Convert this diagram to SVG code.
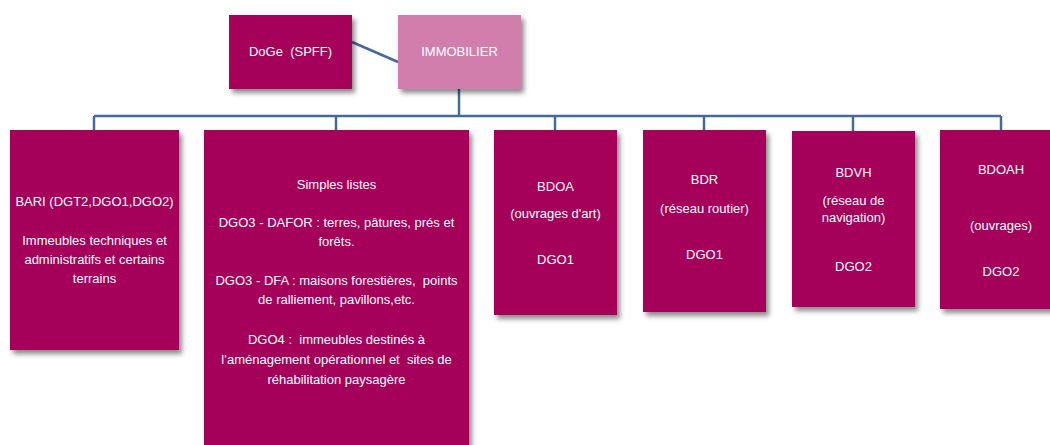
<svg xmlns="http://www.w3.org/2000/svg" width="1050" height="445" viewBox="0 0 1050 445">
<style>
.box{fill:#A5005A;filter:url(#sh)}
.pink{fill:#D17EAD;filter:url(#sh)}
.t{font-family:"Liberation Sans",Arial,sans-serif;font-size:13px;fill:#FFFFFF;text-anchor:middle;white-space:pre}
.c{stroke:#44699A;stroke-width:2.5;fill:none}
</style>
<defs>
<filter id="sh" x="-10%" y="-10%" width="130%" height="130%">
<feDropShadow dx="3" dy="4" stdDeviation="2.5" flood-color="#000" flood-opacity="0.45"/>
</filter>
</defs>
<rect width="1050" height="445" fill="#FFFFFF"/>
<g id="connectors">
<line class="c" x1="352" y1="42" x2="398" y2="62"/>
<line class="c" x1="459" y1="89" x2="459" y2="116"/>
<line class="c" x1="94" y1="116" x2="1001" y2="116"/>
<line class="c" x1="94" y1="116" x2="94" y2="130"/>
<line class="c" x1="336" y1="116" x2="336" y2="130"/>
<line class="c" x1="555" y1="116" x2="555" y2="130"/>
<line class="c" x1="704" y1="116" x2="704" y2="130"/>
<line class="c" x1="853" y1="116" x2="853" y2="131"/>
<line class="c" x1="1001" y1="116" x2="1001" y2="130"/>
</g>
<g id="doge">
<rect class="box" x="229" y="15" width="123" height="74"/>
<text class="t" x="290.5" y="56" xml:space="preserve">DoGe  (SPFF)</text>
</g>
<g id="immobilier">
<rect class="pink" x="398" y="15" width="123" height="74"/>
<text class="t" x="459.5" y="56">IMMOBILIER</text>
</g>
<g id="bari">
<rect class="box" x="10" y="130" width="169" height="220"/>
<text class="t" x="94.5" y="206">BARI (DGT2,DGO1,DGO2)</text>
<text class="t" x="94.5" y="245">Immeubles techniques et</text>
<text class="t" x="94.5" y="264">administratifs et certains</text>
<text class="t" x="94.5" y="283">terrains</text>
</g>
<g id="simples">
<rect class="box" x="204" y="130" width="265" height="330"/>
<text class="t" x="336.5" y="188.5">Simples listes</text>
<text class="t" x="336.5" y="226.5">DGO3 - DAFOR : terres, pâtures, prés et</text>
<text class="t" x="336.5" y="245.5">forêts.</text>
<text class="t" x="336.5" y="285" xml:space="preserve">DGO3 - DFA : maisons forestières,  points</text>
<text class="t" x="336.5" y="304">de ralliement, pavillons,etc.</text>
<text class="t" x="336.5" y="343.5" xml:space="preserve">DGO4 :  immeubles destinés à</text>
<text class="t" x="336.5" y="363.5" xml:space="preserve">l’aménagement opérationnel et  sites de</text>
<text class="t" x="336.5" y="383.5">réhabilitation paysagère</text>
</g>
<g id="bdoa">
<rect class="box" x="494" y="130" width="123" height="185"/>
<text class="t" x="555.5" y="191">BDOA</text>
<text class="t" x="555.5" y="218">(ouvrages d'art)</text>
<text class="t" x="555.5" y="264">DGO1</text>
</g>
<g id="bdr">
<rect class="box" x="643" y="130" width="123" height="182"/>
<text class="t" x="704.5" y="184">BDR</text>
<text class="t" x="704.5" y="213">(réseau routier)</text>
<text class="t" x="704.5" y="259">DGO1</text>
</g>
<g id="bdvh">
<rect class="box" x="792" y="131" width="123" height="176"/>
<text class="t" x="853.5" y="177">BDVH</text>
<text class="t" x="853.5" y="205">(réseau de</text>
<text class="t" x="853.5" y="222">navigation)</text>
<text class="t" x="853.5" y="271">DGO2</text>
</g>
<g id="bdoah">
<rect class="box" x="940" y="130" width="122" height="179"/>
<text class="t" x="1001" y="174">BDOAH</text>
<text class="t" x="1001" y="230">(ouvrages)</text>
<text class="t" x="1001" y="276">DGO2</text>
</g>
</svg>
